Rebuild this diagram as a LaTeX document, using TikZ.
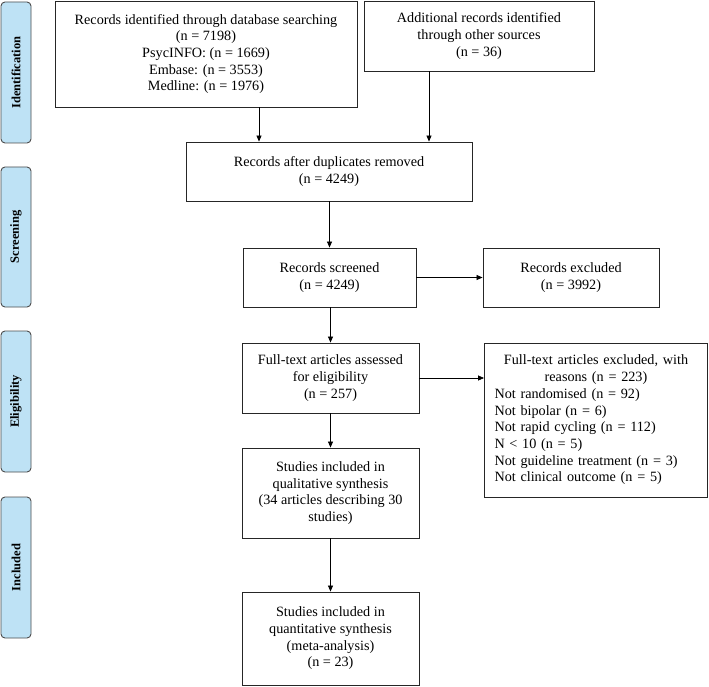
\documentclass[tikz,border=0pt]{standalone}
\usepackage{fontspec}
\setmainfont{Liberation Serif}
\usetikzlibrary{arrows.meta}

\definecolor{faseazul}{RGB}{190,226,245}

\begin{document}
\begin{tikzpicture}[x=1pt,y=-1pt,
  caja/.style={draw=black!85,line width=0.9pt,align=center,inner sep=2pt,
    font=\fontsize{14.2}{16.7}\selectfont},
  fase/.style={draw=black!70,fill=faseazul,line width=0.9pt,rounded corners=4pt,
    rotate=90,minimum height=30pt,font=\fontsize{12.5}{14}\selectfont\bfseries},
  flecha/.style={-{Triangle[length=6pt,width=5pt]},line width=0.7pt}]

\useasboundingbox (0,0) rectangle (709,687);

% --- Fases (columna izquierda) ---
\node[fase,minimum width=141pt] (fid) at (16,72.5) {Identification};
\node[fase,minimum width=140pt] (fscr) at (16,237) {Screening};
\node[fase,minimum width=141pt] (fel) at (16,401.5) {Eligibility};
\node[fase,minimum width=141pt] (finc) at (16,567.5) {Included};

% --- Identificacion ---
\node[caja,minimum width=302pt,minimum height=106pt] (db) at (206,54)
  {Records identified through database searching\\(n = 7198)\\PsycINFO: (n = 1669)\\Embase: (n = 3553)\\Medline: (n = 1976)};
\node[caja,minimum width=230pt,minimum height=70pt] (otras) at (479,36)
  {Additional records identified\\through other sources\\(n = 36)};

% --- Cribado ---
\node[caja,minimum width=286pt,minimum height=59pt] (dup) at (329,171.5)
  {Records after duplicates removed\\(n = 4249)};
\node[caja,minimum width=173pt,minimum height=59pt] (scr) at (329.5,277.5)
  {Records screened\\(n = 4249)};
\node[caja,minimum width=176pt,minimum height=59pt] (excl) at (571,277.5)
  {Records excluded\\(n = 3992)};

% --- Elegibilidad ---
\node[caja,minimum width=177pt,minimum height=70pt] (full) at (330.5,378)
  {Full-text articles assessed\\for eligibility\\(n = 257)};
\node[caja,align=left,text width=203pt,inner xsep=10pt,minimum height=154pt] (motivos) at (596,420)
  {\makebox[203pt]{Full-text articles excluded, with}\\
   \makebox[203pt]{reasons (n = 223)}\\
   Not randomised (n = 92)\\
   Not bipolar (n = 6)\\
   Not rapid cycling (n = 112)\\
   N < 10 (n = 5)\\
   Not guideline treatment (n = 3)\\
   Not clinical outcome (n = 5)};

% --- Incluidos ---
\node[caja,minimum width=177pt,minimum height=90pt] (qual) at (330.5,493)
  {Studies included in\\qualitative synthesis\\(34 articles describing 30\\studies)};
\node[caja,minimum width=177pt,minimum height=93pt] (quant) at (330.5,638.5)
  {Studies included in\\quantitative synthesis\\(meta-analysis)\\(n = 23)};

% flechas entre cajas
\draw[flecha] ([xshift=53pt]db.south) -- ([xshift=53pt]db.south |- dup.north);
\draw[flecha] ([xshift=-50pt]otras.south) -- ([xshift=-50pt]otras.south |- dup.north);
\draw[flecha] (scr.north |- dup.south) -- (scr.north);
\draw[flecha] (scr.east) -- (excl.west);
\draw[flecha] (full.north |- scr.south) -- (full.north);
\draw[flecha] (full.east) -- (motivos.west |- full.east);
\draw[flecha] (full.south) -- (qual.north);
\draw[flecha] (qual.south) -- (quant.north);

\end{tikzpicture}
\end{document}
